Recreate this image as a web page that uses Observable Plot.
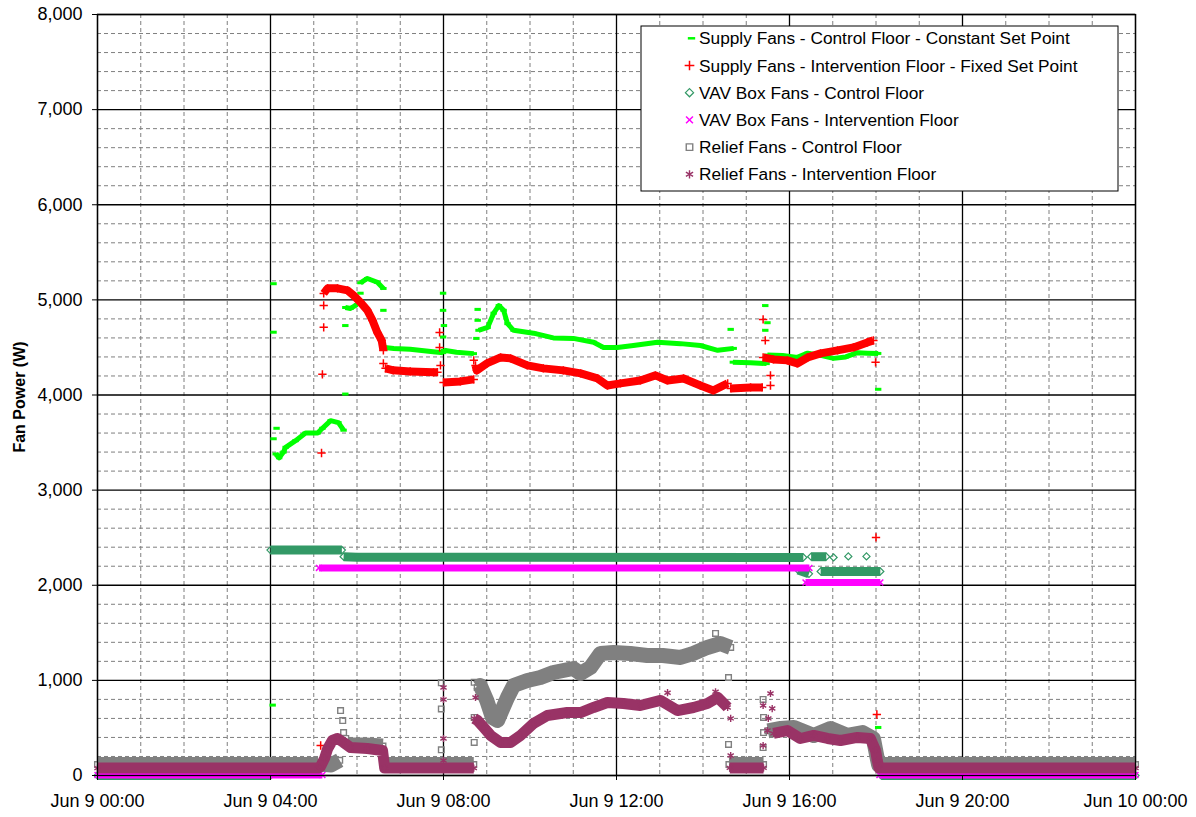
<!DOCTYPE html>
<html><head><meta charset="utf-8">
<script src="https://cdn.jsdelivr.net/npm/d3@7"></script>
<script src="https://cdn.jsdelivr.net/npm/@observablehq/plot@0.6"></script>
<style>body{margin:0;background:#fff}#chart{width:1196px;height:817px}</style>
</head><body><div id="chart"></div>
<script>
// ---- series names (legend) ----
const seriesNames = [
  "Supply Fans - Control Floor - Constant Set Point",
  "Supply Fans - Intervention Floor - Fixed Set Point",
  "VAV Box Fans - Control Floor",
  "VAV Box Fans - Intervention Floor",
  "Relief Fans - Control Floor",
  "Relief Fans - Intervention Floor"
];
// ---- axis ticks ----
const yTicks = [0,1000,2000,3000,4000,5000,6000,7000,8000];
const xTicks = [0,4,8,12,16,20,24]; // hours from Jun 9 00:00
const xTickLabels = ["Jun 9 00:00","Jun 9 04:00","Jun 9 08:00","Jun 9 12:00","Jun 9 16:00","Jun 9 20:00","Jun 10 00:00"];

// ---- data: segments of [hour, watts] ----
const supplyControl = [
 [[4.05,740]],
 [[4.07,5170]],
 [[4.07,4660]],
 [[4.07,3540]],
 [[4.14,3650]],
 [[4.12,3380],[4.2,3340],[4.3,3400],[4.35,3450],[4.58,3520],[4.81,3600],[5.09,3600],[5.2,3650],[5.39,3730],[5.57,3710],[5.69,3630]],
 [[5.73,4010]],
 [[5.73,4730]],
 [[5.73,4920],[5.85,4910],[6.0,4950]],
 [[6.08,5070]],
 [[6.08,5180],[6.24,5225],[6.47,5185],[6.61,5120]],
 [[6.61,4890]],
 [[6.64,4500],[6.85,4490],[7.23,4480],[7.76,4455],[7.99,4445]],
 [[7.99,5070]],[[7.99,4890]],[[8.01,4730]],[[7.99,4610]],
 [[8.01,4470],[8.3,4450],[8.7,4435]],
 [[8.79,4900]],[[8.79,4785]],[[8.76,4595]],
 [[8.81,4680],[9.02,4710],[9.16,4860],[9.28,4940],[9.39,4890],[9.48,4750],[9.62,4680],[10.08,4650],[10.54,4600],[11.0,4595],[11.47,4555],[11.7,4500],[12.02,4500],[12.39,4520],[12.95,4555],[13.48,4540],[13.94,4520],[14.34,4470],[14.71,4490]],
 [[14.64,4690]],
 [[14.69,4345],[15.1,4340],[15.47,4330]],
 [[15.44,4940]],[[15.44,4680]],[[15.49,4760]],
 [[15.49,4420],[15.84,4416],[16.18,4395],[16.42,4440],[16.72,4416],[17.02,4385],[17.3,4400],[17.57,4445],[17.8,4440],[18.05,4437]],
 [[18.05,4060]],
 [[18.05,505]]
];
const supplyIntervention = [
 [[5.16,315]],
 [[5.18,3390]],[[5.2,4217]],[[5.23,4711]],[[5.23,4942]],
 [[5.23,5068],[5.32,5121],[5.55,5121],[5.78,5100],[5.92,5047],[6.08,4974],[6.24,4890],[6.36,4784],[6.47,4658],[6.57,4574],[6.61,4469]],
 [[6.61,4332]],
 [[6.66,4280],[6.84,4259],[7.23,4248],[7.77,4238],[7.86,4240]],
 [[7.91,4658]],[[7.91,4500]],[[7.93,4311]],
 [[8.0,4132],[8.39,4143],[8.7,4164]],
 [[8.7,4364]],
 [[8.74,4311],[8.77,4259],[9.0,4332],[9.32,4395],[9.55,4385],[9.94,4311],[10.31,4280],[10.77,4259],[11.17,4227],[11.56,4174],[11.79,4100],[12.09,4122],[12.55,4153],[12.9,4206],[13.18,4153],[13.55,4174],[13.94,4100],[14.24,4048],[14.57,4122]],
 [[14.64,4069],[15.1,4080],[15.37,4080]],
 [[15.39,4795]],[[15.44,4574]],[[15.56,4206]],[[15.56,4100]],
 [[15.39,4395],[15.63,4374],[15.95,4364],[16.18,4332],[16.42,4395],[16.72,4437],[17.11,4469],[17.48,4500],[17.8,4553],[17.94,4574]],
 [[17.99,4343]],[[18.0,2503]],[[18.02,641]]
];
const vavControl = [
 [[0,0],[4.0,0]],
 [[4.0,2370],[5.65,2370]],
 [[5.69,2300],[6.0,2295],[16.32,2292]],
 [[16.5,2300],[16.85,2300]],
 [[17.02,2292]],[[17.36,2303]],[[17.78,2303]],
 [[16.2,2160],[16.45,2120]],
 [[16.72,2145],[18.1,2145]],
 [[18.12,0],[24,0]]
];
const vavIntervention = [
 [[0,5],[5.2,5]],
 [[5.12,2182],[16.46,2182]],
 [[16.37,2030],[18.1,2030]],
 [[18.08,5],[24,5]]
];
const reliefControl = [
 [[0,115],[5.1,115]],
 [[5.15,120],[5.4,110],[5.6,160]],
 [[5.62,683]],[[5.67,578]],[[5.69,452]],[[5.74,389]],
 [[5.8,320],[6.2,320],[6.6,310]],
 [[6.62,115],[8.7,115]],
 [[7.95,975]],[[7.95,700]],[[7.95,270]],
 [[8.71,980]],[[8.71,610]],[[8.71,347]],
 [[8.78,925],[8.85,946],[9.0,789],[9.13,610],[9.25,578],[9.32,652],[9.48,820],[9.62,946],[9.94,999],[10.24,1030],[10.54,1083],[11.0,1125],[11.17,1073],[11.4,1136],[11.63,1283],[11.93,1293],[12.32,1283],[12.71,1262],[13.07,1262],[13.48,1241],[13.78,1283],[14.1,1346],[14.4,1388],[14.64,1346]],
 [[14.29,1493]],[[14.59,1030]],[[14.59,326]],
 [[14.6,115],[15.4,115]],
 [[15.39,799]],[[15.4,610]],[[15.4,452]],[[15.39,294]],
 [[15.5,470],[15.8,494],[16.1,505],[16.56,421],[16.95,494],[17.34,421],[17.69,452],[17.94,389],[18.02,200],[18.06,115],[24,115]]
];
const reliefIntervention = [
 [[0,78],[5.1,78],[5.15,90],[5.25,180],[5.32,280],[5.43,368],[5.55,389],[5.69,347],[5.85,294],[6.24,284],[6.59,263],[6.64,78],[8.7,78]],
 [[8.0,925]],[[8.0,799]],[[8.0,389]],[[8.0,158]],
 [[8.74,820]],
 [[8.71,600],[8.79,578],[8.93,505],[9.09,421],[9.32,347],[9.55,347],[9.78,421],[10.08,547],[10.4,631],[10.86,662],[11.17,662],[11.47,715],[11.79,767],[12.16,757],[12.55,736],[13.02,789],[13.41,683],[13.78,715],[14.1,757],[14.34,820],[14.57,715]],
 [[13.18,870]],[[14.29,880]],[[14.64,600]],
 [[14.62,80],[15.4,80]],
 [[14.64,210]],
 [[15.56,862]],[[15.39,736]],[[15.6,704]],[[15.51,600]],[[15.49,473]],[[15.39,315]],
 [[15.63,442],[15.95,473],[16.25,389],[16.56,421],[16.88,389],[17.18,368],[17.57,400],[17.87,389],[17.99,263],[18.03,158],[18.07,78],[24,78]]
];

// ---- styling ----
const dash = {draw(ctx, size){ const r = Math.sqrt(size/Math.PI); ctx.moveTo(-r,0); ctx.lineTo(r,0); }};
const specs = [
 {data: supplyControl,      color:"#00ff00", w:5,  symbol: dash,              r:3.2, sw:3},
 {data: supplyIntervention, color:"#ff0000", w:8,  symbol: d3.symbolPlus,     r:2.8, sw:1.5},
 {data: vavControl,         color:"#339966", w:9,  symbol: d3.symbolDiamond2, r:3.2, sw:1.2},
 {data: vavIntervention,    color:"#ff00ff", w:7,  symbol: d3.symbolTimes,    r:2.8, sw:1.5},
 {data: reliefControl,      color:"#808080", w:15, symbol: d3.symbolSquare2,  r:3.6, sw:1.4},
 {data: reliefIntervention, color:"#993366", w:11, symbol: d3.symbolAsterisk, r:3.4, sw:1.4}
];
const toRows = segs => segs.flatMap((seg,i) => seg.map(([h,v]) => ({h, v, s:i})));

const yMinor = d3.range(200, 8000, 200).filter(v => v % 1000 !== 0);
const xMinor = d3.range(1, 24).filter(h => h % 4 !== 0);

const marks = [
  Plot.ruleY(yMinor, {stroke:"#7f7f7f", strokeDasharray:"4,3"}),
  Plot.ruleX(xMinor, {stroke:"#7f7f7f", strokeDasharray:"4,3"}),
  Plot.ruleY(yTicks, {stroke:"#000", strokeWidth:1.3}),
  Plot.ruleX(xTicks, {stroke:"#000", strokeWidth:1.3})
];
for (const sp of specs) {
  const rows = toRows(sp.data);
  marks.push(Plot.line(rows, {x:"h", y:"v", z:"s", stroke:sp.color, strokeWidth:sp.w, strokeLinecap:"butt", strokeLinejoin:"round"}));
  marks.push(Plot.dot(rows, {x:"h", y:"v", symbol:sp.symbol, r:sp.r, stroke:sp.color, fill:"none", strokeWidth:sp.sw}));
}
marks.push(
  Plot.frame({stroke:"#000", strokeWidth:1.3}),
  Plot.axisY(yTicks, {tickSize:5, tickPadding:10, tickFormat:d3.format(","), label:null, fontSize:18}),
  Plot.axisX(xTicks, {tickSize:5, tickPadding:14, tickFormat:d => xTickLabels[xTicks.indexOf(d)], label:null, fontSize:18})
);

const chart = Plot.plot({
  width:1196, height:817,
  marginLeft:97, marginRight:61, marginTop:14, marginBottom:42,
  x:{domain:[0,24]}, y:{domain:[0,8000]},
  style:{fontFamily:"'Liberation Sans', Arial, sans-serif", fontSize:"18px", color:"#000", background:"#fff", overflow:"visible"},
  marks
});
document.getElementById("chart").appendChild(chart);

// ---- y-axis title ----
const svg = d3.select(chart);
svg.append("text")
  .attr("transform","translate(19,397) rotate(-90)")
  .attr("text-anchor","middle").attr("dominant-baseline","central")
  .attr("font-weight","bold").attr("font-size",16).attr("fill","#000")
  .text("Fan Power (W)");

// ---- legend ----
const lg = svg.append("g").attr("text-anchor","start");
lg.append("rect").attr("x",641).attr("y",26).attr("width",477).attr("height",165)
  .attr("fill","#fff").attr("stroke","#000").attr("stroke-width",1);
specs.forEach((sp,i) => {
  const cy = 38.3 + i*27.2;
  const lr = sp.r * 1.15;
  lg.append("path")
    .attr("transform",`translate(${i===0?691.5:689.5},${cy})`)
    .attr("d", d3.symbol(sp.symbol, Math.PI*lr*lr)())
    .attr("fill","none").attr("stroke",sp.color).attr("stroke-width", i===0?2.5:sp.sw);
  lg.append("text").attr("x",699).attr("y",cy)
    .attr("text-anchor","start")
    .attr("dominant-baseline","central").attr("font-size",17.3).attr("fill","#000")
    .text(seriesNames[i]);
});
</script>
</body></html>
